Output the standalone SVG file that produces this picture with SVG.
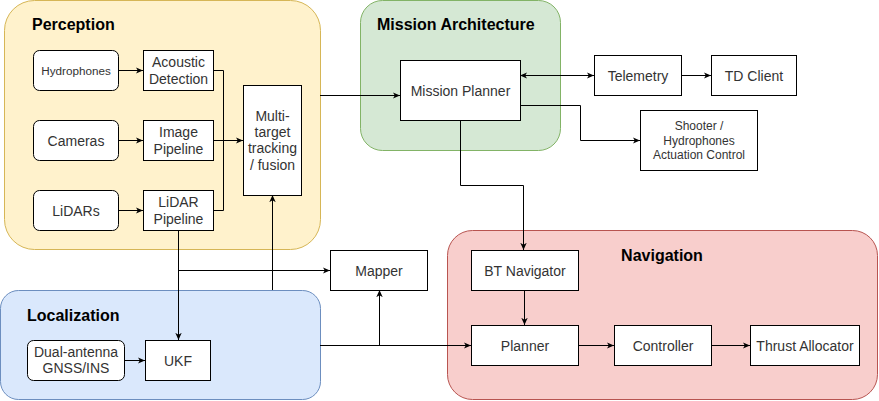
<svg xmlns="http://www.w3.org/2000/svg" width="879" height="401" viewBox="0 0 879 401">
<defs>
<marker id="arr" viewBox="0 0 10 10" refX="9" refY="5" markerWidth="8" markerHeight="8" markerUnits="userSpaceOnUse" orient="auto-start-reverse">
<path d="M0,1 L9,5 L0,9 L2.5,5 z" fill="#000"/>
</marker>
</defs>
<style>
text{font-family:"Liberation Sans",Arial,sans-serif;fill:#333;}
.t{font-size:14px;text-anchor:middle;}
.s{font-size:12px;text-anchor:middle;}
.h{font-size:16px;font-weight:bold;fill:#000;}
.n{fill:#fff;stroke:#000;stroke-width:1;}
.c{fill:none;stroke:#000;stroke-width:1;}
</style>
<rect width="879" height="401" fill="#fff"/>
<g id="perception">
<rect x="4.5" y="0.5" width="316" height="249" rx="30" fill="#fff2cc" stroke="#d6b656"/>
<text class="h" x="32" y="30">Perception</text>
</g>
<g id="mission-architecture">
<rect x="360.5" y="0.5" width="200" height="150" rx="22" fill="#d5e8d4" stroke="#82b366"/>
<text class="h" x="377" y="30">Mission Architecture</text>
</g>
<g id="localization">
<rect x="0.5" y="290.5" width="320" height="109" rx="18" fill="#dae8fc" stroke="#6c8ebf"/>
<text class="h" x="27" y="321">Localization</text>
</g>
<g id="navigation">
<rect x="447.5" y="230.5" width="430" height="169" rx="25" fill="#f8cecc" stroke="#b85450"/>
<text class="h" x="662" y="261" text-anchor="middle">Navigation</text>
</g>
<g id="connectors">
<path class="c" d="M118,70.5 H143" marker-end="url(#arr)"/>
<path class="c" d="M118,140.5 H143" marker-end="url(#arr)"/>
<path class="c" d="M118,210.5 H143" marker-end="url(#arr)"/>
<path class="c" d="M213.5,70.5 H223.5 V140.5"/>
<path class="c" d="M213.5,210.5 H223.5 V140.5"/>
<path class="c" d="M213,140.5 H243" marker-end="url(#arr)"/>
<path class="c" d="M320,95.5 H400" marker-end="url(#arr)"/>
<path class="c" d="M520,75.5 H594" marker-start="url(#arr)" marker-end="url(#arr)"/>
<path class="c" d="M682,75.5 H711" marker-end="url(#arr)"/>
<path class="c" d="M520,105.5 H580.5 V140.5 H640" marker-end="url(#arr)"/>
<path class="c" d="M460.5,120 V185.5 H523.5 V250" marker-end="url(#arr)"/>
<path class="c" d="M524.5,290 V325" marker-end="url(#arr)"/>
<path class="c" d="M578,345.5 H614" marker-end="url(#arr)"/>
<path class="c" d="M711,345.5 H750" marker-end="url(#arr)"/>
<path class="c" d="M178.5,230 V340" marker-end="url(#arr)"/>
<path class="c" d="M178.5,270.5 H330" marker-end="url(#arr)"/>
<path class="c" d="M272.5,290 V195" marker-end="url(#arr)"/>
<path class="c" d="M320,345.5 H471" marker-end="url(#arr)"/>
<path class="c" d="M379.5,345.5 V290" marker-end="url(#arr)"/>
<path class="c" d="M124,360.5 H145" marker-end="url(#arr)"/>
</g>
<g id="hydrophones">
<rect class="n" x="33.5" y="50.5" width="85" height="40" rx="6"/>
<text class="s" x="76" y="74.5" style="font-size:11.7px">Hydrophones</text>
</g>
<g id="acoustic-detection">
<rect class="n" x="143.5" y="50.5" width="70" height="40"/>
<text class="t" x="178.5" y="67">Acoustic</text>
<text class="t" x="178.5" y="83.5">Detection</text>
</g>
<g id="cameras">
<rect class="n" x="33.5" y="120.5" width="85" height="40" rx="6"/>
<text class="t" x="76" y="145.5">Cameras</text>
</g>
<g id="image-pipeline">
<rect class="n" x="143.5" y="120.5" width="70" height="40"/>
<text class="t" x="178.5" y="137">Image</text>
<text class="t" x="178.5" y="153.5">Pipeline</text>
</g>
<g id="lidars">
<rect class="n" x="33.5" y="190.5" width="85" height="40" rx="6"/>
<text class="t" x="76" y="215.5">LiDARs</text>
</g>
<g id="lidar-pipeline">
<rect class="n" x="143.5" y="190.5" width="70" height="40"/>
<text class="t" x="178.5" y="207">LiDAR</text>
<text class="t" x="178.5" y="223.5">Pipeline</text>
</g>
<g id="multi-target-tracking">
<rect class="n" x="243.5" y="85.5" width="58" height="110"/>
<text class="t" x="272.5" y="120.6">Multi-</text>
<text class="t" x="272.5" y="136.9">target</text>
<text class="t" x="272.5" y="153.2">tracking</text>
<text class="t" x="272.5" y="169.5">/ fusion</text>
</g>
<g id="mission-planner">
<rect class="n" x="400.5" y="60.5" width="120" height="60"/>
<text class="t" x="460.5" y="95.5">Mission Planner</text>
</g>
<g id="telemetry">
<rect class="n" x="594.5" y="55.5" width="87" height="40"/>
<text class="t" x="638" y="80.5">Telemetry</text>
</g>
<g id="td-client">
<rect class="n" x="711.5" y="55.5" width="85" height="40"/>
<text class="t" x="754" y="80.5">TD Client</text>
</g>
<g id="shooter-actuation">
<rect class="n" x="640.5" y="110.5" width="117" height="60"/>
<text class="s" x="699" y="130.3">Shooter /</text>
<text class="s" x="699" y="144.8">Hydrophones</text>
<text class="s" x="699" y="159.3">Actuation Control</text>
</g>
<g id="mapper">
<rect class="n" x="330.5" y="250.5" width="97" height="40"/>
<text class="t" x="379" y="275.5">Mapper</text>
</g>
<g id="gnss-ins">
<rect class="n" x="27.5" y="340.5" width="97" height="40" rx="6"/>
<text class="t" x="76" y="357">Dual-antenna</text>
<text class="t" x="76" y="373">GNSS/INS</text>
</g>
<g id="ukf">
<rect class="n" x="145.5" y="340.5" width="65" height="40"/>
<text class="t" x="178" y="365.5">UKF</text>
</g>
<g id="bt-navigator">
<rect class="n" x="471.5" y="250.5" width="107" height="40"/>
<text class="t" x="525" y="275.5">BT Navigator</text>
</g>
<g id="planner">
<rect class="n" x="471.5" y="325.5" width="107" height="40"/>
<text class="t" x="525" y="350.5">Planner</text>
</g>
<g id="controller">
<rect class="n" x="614.5" y="325.5" width="97" height="40"/>
<text class="t" x="663" y="350.5">Controller</text>
</g>
<g id="thrust-allocator">
<rect class="n" x="750.5" y="325.5" width="109" height="40"/>
<text class="t" x="805" y="350.5">Thrust Allocator</text>
</g>
</svg>
